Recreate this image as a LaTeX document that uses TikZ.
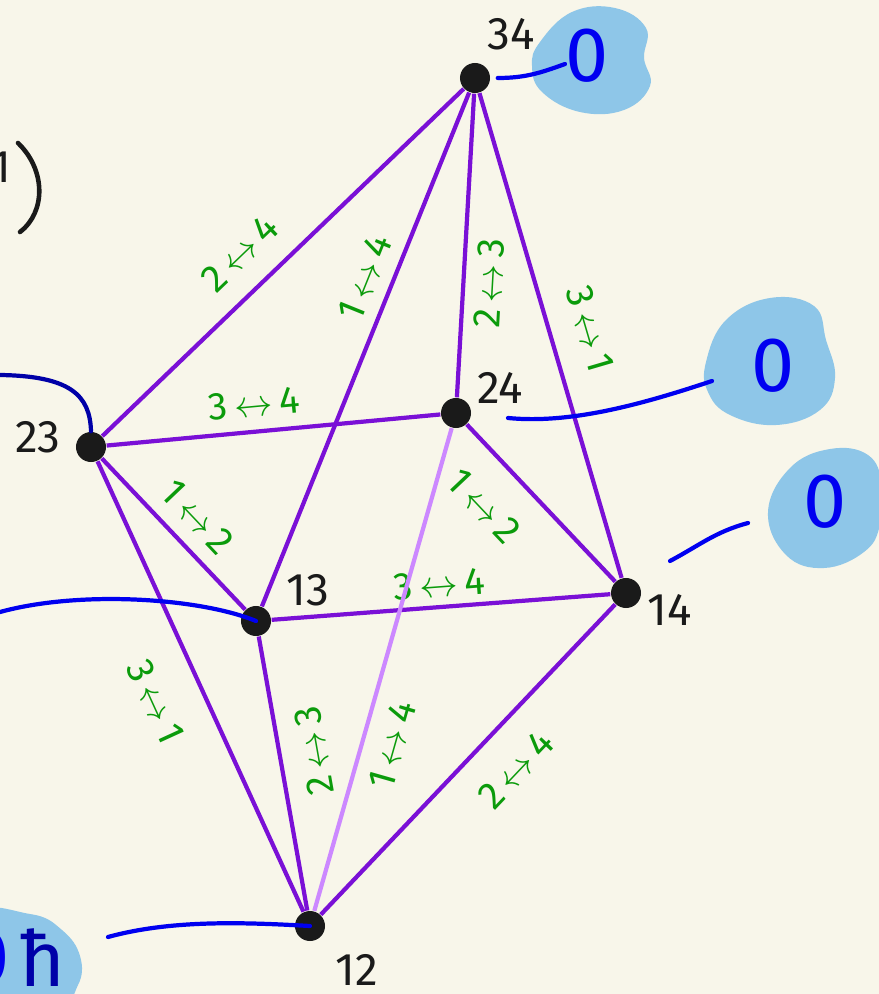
\documentclass[tikz,border=0pt]{standalone}
\usepackage{fontspec}
\setmainfont{Fira Sans}
\usetikzlibrary{positioning}
\definecolor{cream}{HTML}{F8F6EA}
\definecolor{ink}{HTML}{1A1A1A}
\definecolor{grape}{HTML}{7A10D6}
\definecolor{lilac}{HTML}{CC88FF}
\definecolor{leaf}{HTML}{0B9B0B}
\definecolor{wireblue}{HTML}{0000F0}
\definecolor{deepblue}{HTML}{0000A8}
\definecolor{sky}{HTML}{8EC6E8}

\begin{document}
\begin{tikzpicture}[x=0.01cm,y=-0.01cm,
  dot/.style={circle,fill=ink,inner sep=0pt,minimum size=3mm},
  vlab/.style={text=ink,font=\fontsize{13}{15}\selectfont},
  link/.style={grape,line width=1.2pt},
  lbl/.style={sloped,inner sep=0pt,text=leaf,font=\fontsize{11}{13}\selectfont},
  wire/.style={wireblue,line width=1.2pt,line cap=round},
  blob/.style={fill=sky},
  zero/.style={text=wireblue,font=\fontsize{22}{24}\selectfont}]
\fill[cream] (0,0) rectangle (879,994);
\useasboundingbox (0,0) rectangle (879,994);

% blue blobs
\fill[blob] plot[smooth cycle,tension=0.7] coordinates {(540,42) (572,12) (615,8) (646,28) (644,58) (650,86) (624,110) (580,112) (542,92) (532,66)};
\fill[blob] plot[smooth cycle,tension=0.7] coordinates {(706,362) (726,320) (770,298) (814,306) (826,340) (835,378) (820,410) (776,425) (730,415) (708,392)};
\fill[blob] plot[smooth cycle,tension=0.7] coordinates {(768,512) (790,468) (830,449) (868,455) (882,485) (880,525) (864,552) (824,568) (786,555)};
\fill[blob] plot[smooth cycle,tension=0.7] coordinates {(-30,916) (30,914) (62,930) (80,956) (78,985) (55,1004) (-30,1004)};
\node[zero] (zTop) at (587,56) {0};
\node[zero] (zMid) at (773,366) {0};
\node[zero] (zRight) at (825,502) {0};
\node[zero] (zLeft) at (-12,958) {0};
\node[text=deepblue,font=\fontsize{22}{24}\selectfont] (hbar) at (42,958) {ħ};

% vertices
\node[dot] (v34) at (475,78) {};
\node[dot] (v24) at (456,413) {};
\node[dot] (v23) at (91,447) {};
\node[dot] (v13) at (256,621) {};
\node[dot] (v14) at (626,593) {};
\node[dot] (v12) at (310,926) {};
\node[vlab] (l34) at (511,34) {34};
\node[vlab] (l24) at (500,388) {24};
\node[vlab] (l23) at (38,437) {23};
\node[vlab] (l13) at (308,590) {13};
\node[vlab] (l14) at (670,610) {14};
\node[vlab] (l12) at (357,970) {12};

% edges
\draw[link] (v23)--node[lbl,pos=0.45,above=6pt]{2\,$\leftrightarrow$\,4}(v34);
\draw[link] (v13)--node[lbl,pos=0.62,above=3.5pt]{1\,$\leftrightarrow$\,4}(v34);
\draw[link] (v24)--node[lbl,pos=0.38,below=3pt]{2\,$\leftrightarrow$\,3}(v34);
\draw[link] (v34)--node[lbl,pos=0.51,above=7pt]{3\,$\leftrightarrow$\,1}(v14);
\draw[link] (v23)--node[lbl,pos=0.45,above=3.5pt]{3\,$\leftrightarrow$\,4}(v24);
\draw[link] (v23)--node[lbl,pos=0.52,above=4pt]{1\,$\leftrightarrow$\,2}(v13);
\draw[link] (v24)--node[lbl,pos=0.33,below=8pt]{1\,$\leftrightarrow$\,2}(v14);
\draw[link] (v13)--node[lbl,pos=0.5,above=2pt]{3\,$\leftrightarrow$\,4}(v14);
\draw[link] (v23)--node[lbl,pos=0.49,below=9pt]{3\,$\leftrightarrow$\,1}(v12);
\draw[link] (v12)--node[lbl,allow upside down,pos=0.56,below=5.5pt]{2\,$\leftrightarrow$\,3}(v13);
\draw[link,lilac] (v12)--node[lbl,pos=0.36,below=4pt]{1\,$\leftrightarrow$\,4}(v24);
\draw[link] (v12)--node[lbl,pos=0.56,below=7.5pt]{2\,$\leftrightarrow$\,4}(v14);

% blue wires
\coordinate (w34) at (565,64);
\coordinate (s24) at (508,418);
\coordinate (e24) at (712,381);
\coordinate (s14) at (670,561);
\coordinate (e14) at (748,523);
\coordinate (w13) at (0,612);
\coordinate (w23) at (0,375);
\coordinate (w12) at (108,937);
\draw[wire] ([xshift=2pt]v34.east) to[out=0,in=200] (w34);
\draw[wire] (s24) .. controls (570,424) and (640,405) .. (e24);
\draw[wire] (s14) to[out=28,in=195] (e14);
\draw[wire] (w13) .. controls (80,590) and (200,598) .. (v13.center);
\draw[wire,deepblue] (w23) .. controls (70,376) and (90,395) .. (v23.north);
\draw[wire] (w12) .. controls (170,920) and (240,922) .. (v12.center);

% bracket at left
\node[vlab] (one) at (1,167) {1};
\draw[ink,line width=1.3pt,line cap=round] (18,143) .. controls (46,170) and (46,212) .. (20,232);
\end{tikzpicture}
\end{document}
